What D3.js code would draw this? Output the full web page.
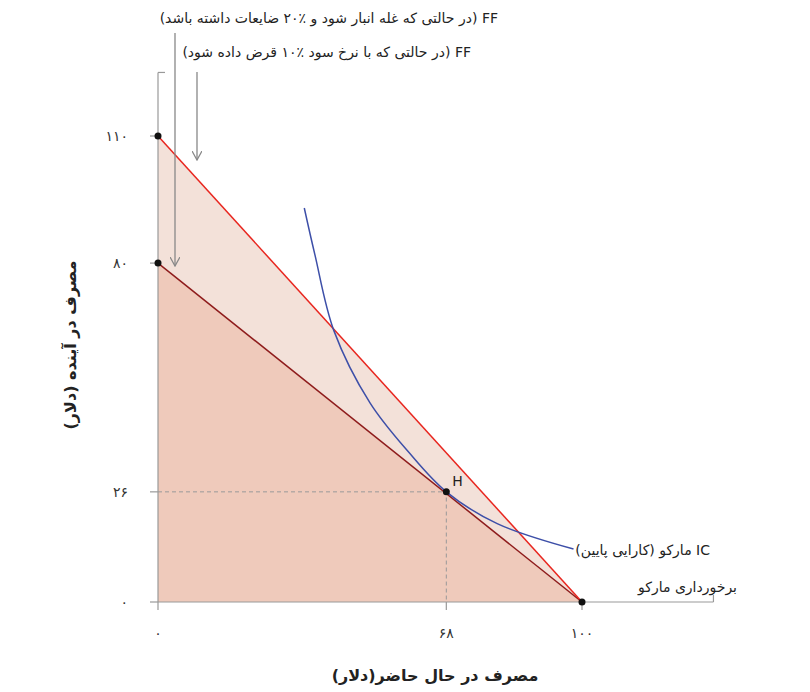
<!DOCTYPE html>
<html><head><meta charset="utf-8">
<script src="https://cdn.jsdelivr.net/npm/d3@7"></script>
<style>body{margin:0;background:#fff}text{font-family:"DejaVu Sans",sans-serif}</style>
</head><body><svg id="c" width="810" height="692"></svg>
<script>
const xTicks=[0,68,100], xTickLabels=["۰","۶۸","۱۰۰"];
const yTicks=[0,26,80,110], yTickLabels=["۰","۲۶","۸۰","۱۱۰"];
const ffStore=[[0,80],[100,0]];
const ffLoan=[[0,110],[100,0]];
const icPts=[[34.5,93],[37,82],[41.5,64],[50,47],[59,35.5],[68,26],[80,18.5],[98,12.5]];
const endowment=[100,0], H=[68,26];
const svg=d3.select("#c");
const x=d3.scaleLinear().domain([0,100]).range([158,582]);
const y=d3.scaleLinear().domain([0,110]).range([602,136]);
const g=svg.append("g");
const area=d3.area().x(d=>x(d[0])).y0(y(0)).y1(d=>y(d[1]));
g.append("path").attr("d",area(ffLoan)).attr("fill","#f3e1d9");
g.append("path").attr("d",area(ffStore)).attr("fill","#efcabb");
const ax=g.append("g").attr("stroke","#999").attr("stroke-width",1.2);
ax.append("line").attr("x1",x(0)).attr("x2",x(131)).attr("y1",y(0)).attr("y2",y(0));
ax.append("line").attr("x1",x(131)).attr("x2",x(131)).attr("y1",y(0)).attr("y2",y(0)-7);
ax.append("line").attr("x1",x(0)).attr("x2",x(0)).attr("y1",y(0)).attr("y2",y(125));
ax.append("line").attr("x1",x(0)).attr("x2",x(0)+7).attr("y1",y(125)).attr("y2",y(125));
xTicks.forEach((t,i)=>{ax.append("line").attr("x1",x(t)).attr("x2",x(t)).attr("y1",y(0)).attr("y2",y(0)+8);
 g.append("text").attr("x",x(t)).attr("y",638).attr("text-anchor","middle").attr("font-size",14).attr("fill","#333").text(xTickLabels[i]);});
yTicks.forEach((t,i)=>{ax.append("line").attr("x1",x(0)-8).attr("x2",x(0)).attr("y1",y(t)).attr("y2",y(t));
 g.append("text").attr("x",128).attr("y",y(t)+5).attr("text-anchor","end").attr("font-size",14).attr("fill","#333").text(yTickLabels[i]);});
g.append("path").attr("d",`M${x(0)},${y(H[1])}H${x(H[0])}V${y(0)}`).attr("fill","none").attr("stroke","#999").attr("stroke-dasharray","4,3");
const line=d3.line().x(d=>x(d[0])).y(d=>y(d[1]));
g.append("path").attr("d",line(ffStore)).attr("stroke","#8e1c1c").attr("stroke-width",1.5).attr("fill","none");
g.append("path").attr("d",line(ffLoan)).attr("stroke","#e8261f").attr("stroke-width",1.5).attr("fill","none");
g.append("path").attr("d",line.curve(d3.curveCatmullRom)(icPts)).attr("stroke","#3d4fa8").attr("stroke-width",1.5).attr("fill","none");
[[0,110],[0,80],H,endowment].forEach(p=>g.append("circle").attr("cx",x(p[0])).attr("cy",y(p[1])).attr("r",3.5).attr("fill","#111"));
g.append("text").attr("x",x(H[0])+6).attr("y",y(H[1])-6).attr("font-size",14).attr("fill","#222").text("H");
const defs=svg.append("defs");
defs.append("marker").attr("id","ah").attr("viewBox","0 0 10 10").attr("refX",9).attr("refY",5).attr("markerWidth",10).attr("markerHeight",10).attr("orient","auto").attr("markerUnits","userSpaceOnUse")
 .append("path").attr("d","M0,0L9,5L0,10").attr("fill","none").attr("stroke","#888").attr("stroke-width",1.3);
g.append("line").attr("x1",175).attr("x2",175).attr("y1",33).attr("y2",266).attr("stroke","#888").attr("stroke-width",1.3).attr("marker-end","url(#ah)");
g.append("line").attr("x1",197).attr("x2",197).attr("y1",72).attr("y2",160).attr("stroke","#888").attr("stroke-width",1.3).attr("marker-end","url(#ah)");
const lab=(t,xx,yy,opt={})=>g.append("text").attr("x",xx).attr("y",yy).attr("direction","rtl").attr("text-anchor",opt.a||"start").attr("font-size",opt.s||14).attr("font-weight",opt.w||"normal").attr("fill","#222").text(t);
lab("FF (در حالتی که غله انبار شود و ٪۲۰ ضایعات داشته باشد)",498,23);
lab("FF (در حالتی که با نرخ سود ٪۱۰  قرض داده شود)",471,57);
lab("IC مارکو (کارایی پایین)",710,555);
lab("برخورداری مارکو",737,592);
lab("مصرف در حال حاضر(دلار)",435,681,{a:"middle",s:16,w:"bold"});
g.append("text").attr("transform","translate(76,345) rotate(-90)").attr("direction","rtl").attr("text-anchor","middle").attr("font-size",16).attr("font-weight","bold").attr("fill","#222").text("مصرف در آینده (دلار)");
</script></body></html>
